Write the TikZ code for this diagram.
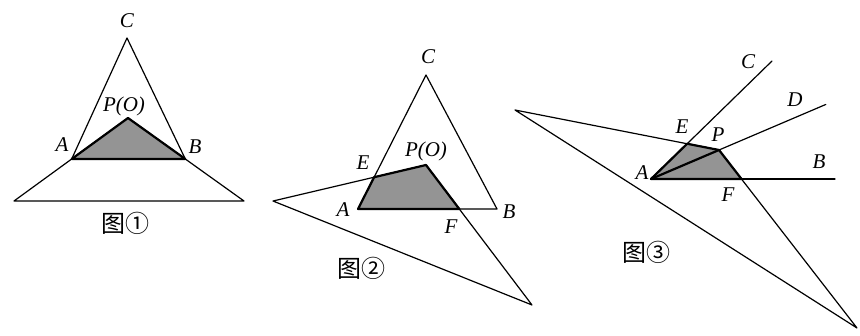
\documentclass[tikz,border=0pt]{standalone}
\usepackage{fontspec}
\setmainfont{Liberation Serif}
\newfontfamily\cjk{Noto Sans CJK SC}
\usetikzlibrary{calc}
\begin{document}
\begin{tikzpicture}[x=1pt,y=-1pt,line width=1.2pt,line join=round,line cap=round,
  lab/.style={font=\itshape\fontsize{21}{21}\selectfont,inner sep=0pt},
  figcap/.style={font=\cjk\fontsize{24}{24}\selectfont,inner sep=0pt},
  shaded/.style={fill=black!42,draw=black,line width=2.2pt}]
\useasboundingbox[fill=white] (0,0) rectangle (860,335);
% ---------- Figure 1
\coordinate (C1) at (127,38);
\coordinate (P1) at (128,118);
\coordinate (L1) at (14,201);
\coordinate (R1) at (244,201);
\coordinate (A1) at ($(P1)!0.494!(L1)$);
\coordinate (B1) at ($(P1)!0.494!(R1)$);
\draw (P1) -- (L1) -- (R1) -- cycle;
\draw (A1) -- (C1) -- (B1);
\filldraw[shaded] (A1) -- (P1) -- (B1) -- cycle;
\node[lab] (lC1) at (127,21) {C};
\node[lab] (lP1) at (124,106) {P(O)};
\node[lab] (lA1) at (62,145) {A};
\node[lab] (lB1) at (195,147) {B};
\node[figcap] (cap1) at (125,223) {图①};
% ---------- Figure 2
\coordinate (C2) at (426,75);
\coordinate (A2) at (358,209);
\coordinate (B2) at (497,209);
\coordinate (P2) at (426,165);
\coordinate (L2) at (273,201);
\coordinate (R2) at (532,305);
\coordinate (E2) at (intersection of A2--C2 and P2--L2);
\coordinate (F2) at (intersection of A2--B2 and P2--R2);
\draw (P2) -- (L2) -- (R2) -- cycle;
\draw (A2) -- (C2) -- (B2) -- cycle;
\filldraw[shaded] (A2) -- (E2) -- (P2) -- (F2) -- cycle;
\node[lab] (lC2) at (428,57) {C};
\node[lab] (lP2) at (426,151) {P(O)};
\node[lab] (lE2) at (363,163) {E};
\node[lab] (lA2) at (343,210) {A};
\node[lab] (lB2) at (509,212) {B};
\node[lab] (lF2) at (451,227) {F};
\node[figcap] (cap2) at (361,268) {图②};
% ---------- Figure 3
\coordinate (A3) at (651,179);
\coordinate (C3) at (772,61);
\coordinate (B3) at (835,179);
\coordinate (P3) at (719,150);
\coordinate (D3) at ($(A3)!2.57!(P3)$);
\coordinate (L3) at (515,110);
\coordinate (R3) at (857,328);
\coordinate (E3) at (intersection of A3--C3 and P3--L3);
\coordinate (F3) at (intersection of A3--B3 and P3--R3);
\draw (P3) -- (L3) -- (R3) -- cycle;
\draw (A3) -- (C3);
\draw (A3) -- (D3);
\draw (A3) -- (B3);
\filldraw[shaded] (A3) -- (E3) -- (P3) -- (F3) -- cycle;
\draw[line width=2.2pt] (A3) -- (P3);
\node[lab] (lC3) at (748,62) {C};
\node[lab] (lD3) at (795,100) {D};
\node[lab] (lE3) at (682,127) {E};
\node[lab] (lP3) at (718,135) {P};
\node[lab] (lB3) at (819,162) {B};
\node[lab] (lA3) at (642,173) {A};
\node[lab] (lF3) at (728,195) {F};
\node[figcap] (cap3) at (646,252) {图③};
\end{tikzpicture}
\end{document}
